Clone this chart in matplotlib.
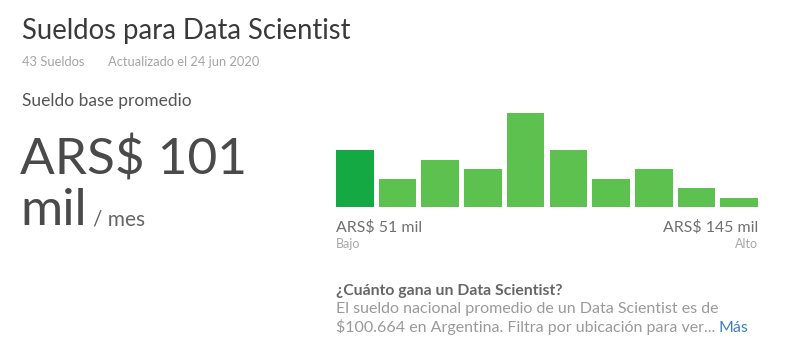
import matplotlib
matplotlib.use("Agg")
import matplotlib.pyplot as plt

# Data
bins = list(range(10))
counts = [6, 3, 5, 4, 10, 6, 3, 4, 2, 1]
low_label = "ARS$ 51 mil"
high_label = "ARS$ 145 mil"
title = "Sueldos para Data Scientist"
sub_count = "43 Sueldos"
sub_date = "Actualizado el 24 jun 2020"
avg_label = "Sueldo base promedio"
avg_value = "ARS$ 101"

W, H = 800, 356
fig = plt.figure(figsize=(W / 100, H / 100), dpi=100)
fig.patch.set_facecolor("white")
FONT = "Lato"

def px(x, y):
    return x / W, 1 - y / H

def t(x, y, s, size, color, weight="normal", ha="left"):
    return fig.text(*px(x, y), s, fontsize=size, color=color, fontweight=weight,
                    ha=ha, va="baseline", family=FONT)

t(22, 38.5, title, 19.8, "#3a3a3a")
t(22, 66.5, sub_count, 9.3, "#a5a5a5")
t(108, 66.5, sub_date, 9.3, "#a5a5a5")
t(22, 106, avg_label, 12.5, "#555555")
t(20, 175, avg_value, 37, "#4a4a4a")
t(20, 225, "mil", 37, "#4a4a4a")
t(93, 225, "/ mes", 15, "#666666")

# Histogram axes
ax_left, ax_right, ax_bottom, ax_top = 336, 758, 207, 112.7
ax = fig.add_axes([ax_left / W, 1 - ax_bottom / H, (ax_right - ax_left) / W, (ax_bottom - ax_top) / H])
colors = ["#14a943"] + ["#5cc14f"] * (len(counts) - 1)
ax.bar(bins, counts, width=0.88, color=colors)
ax.set_xlim(-0.44, len(bins) - 1 + 0.44)
ax.set_ylim(0, max(counts))
ax.axis("off")

t(336, 231.5, low_label, 11.4, "#707070")
t(336, 248.5, "Bajo", 9, "#a8a8a8")
t(758, 231.5, high_label, 11.4, "#707070", ha="right")
t(758, 248.5, "Alto", 9, "#a8a8a8", ha="right")

t(336, 295, "¿Cuánto gana un Data Scientist?", 11.3, "#666666", weight="bold")
t(336, 313.5, "El sueldo nacional promedio de un Data Scientist es de", 11.5, "#9a9a9a")
line3 = t(336, 332, "$100.664 en Argentina. Filtra por ubicación para ver...", 11.5, "#9a9a9a")
fig.canvas.draw()
bb = line3.get_window_extent(renderer=fig.canvas.get_renderer())
fig.text(bb.x1 / W + 3 / W, 1 - 332 / H, "Más", fontsize=11.5, color="#3f7fc6",
         ha="left", va="baseline", family=FONT)

fig.savefig("out.png", dpi=100, facecolor="white")
